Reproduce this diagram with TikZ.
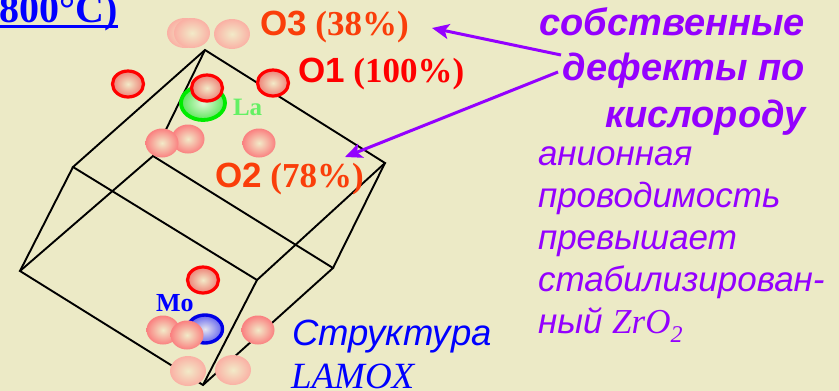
\documentclass[tikz,border=0pt]{standalone}
\usepackage{fontspec}
\setmainfont{Liberation Serif}
\newfontfamily\arialf{Liberation Sans}
\usetikzlibrary{shapes.geometric,arrows.meta}

\definecolor{paper}{RGB}{236,234,198}
\definecolor{labred}{RGB}{255,0,0}
\definecolor{laborange}{RGB}{250,62,10}
\definecolor{violet}{RGB}{148,0,255}
\definecolor{laGreen}{RGB}{100,240,100}
\definecolor{ringGreen}{RGB}{0,235,0}
\definecolor{ringBlue}{RGB}{0,0,230}
\definecolor{coreLight}{RGB}{242,234,200}
\definecolor{rimOne}{RGB}{238,128,118}
\definecolor{rimTwo}{RGB}{250,128,128}
\definecolor{rimThree}{RGB}{250,176,164}
\definecolor{coreGreen}{RGB}{225,248,215}
\definecolor{rimGreen}{RGB}{90,230,90}
\definecolor{coreBlue}{RGB}{230,230,240}
\definecolor{rimBlue}{RGB}{100,100,238}

\tikzset{
  edge/.style={draw=black, line width=1.9, line join=miter},
  atom/.style={ellipse, inner sep=0, minimum width=33, minimum height=29, shading=radial},
  oone/.style={atom, draw=labred, line width=3.2, minimum width=31, minimum height=26, inner color=coreLight, outer color=rimOne},
  otwo/.style={atom, inner color=coreLight, outer color=rimTwo},
  othree/.style={atom, minimum width=36, minimum height=30, inner color=coreLight, outer color=rimThree},
  laatom/.style={atom, draw=ringGreen, line width=3.8, minimum width=44, minimum height=34, inner color=coreGreen, outer color=rimGreen},
  moatom/.style={atom, draw=ringBlue, line width=3.4, minimum width=35, minimum height=28, inner color=coreBlue, outer color=rimBlue},
  txt/.style={inner sep=0, outer sep=0},
  olabel/.style={txt, anchor=base west, font=\bfseries\fontsize{35}{42}\selectfont},
  boldv/.style={txt, anchor=base east, text=violet, font=\arialf\bfseries\itshape\fontsize{38}{46}\selectfont},
  plainv/.style={txt, anchor=base west, text=violet, font=\arialf\itshape\fontsize{35}{42}\selectfont},
  parrow/.style={draw=violet, line width=3, -{Stealth[length=17,width=15,inset=4]}},
}

\begin{document}
\begin{tikzpicture}[x=1pt, y=-1pt]
  \useasboundingbox (0,0) rectangle (839,391);
  \fill[paper] (0,0) rectangle (839,391);

  % tilted unit cell
  \coordinate (T)  at (205,50);
  \coordinate (L)  at (73,167);
  \coordinate (R)  at (385,163);
  \coordinate (I)  at (153,156);
  \coordinate (F)  at (257,280);
  \coordinate (V)  at (333,268);
  \coordinate (LB) at (20,271);
  \coordinate (B)  at (203,385);
  \draw[edge] (T) -- (L) -- (F) -- (R) -- cycle;
  \draw[edge] (I) -- (LB) -- (B) -- (V) -- cycle;
  \draw[edge] (T) -- (I);
  \draw[edge] (L) -- (LB);
  \draw[edge] (F) -- (B);
  \draw[edge] (R) -- (V);

  % heading fragment
  \node[txt, anchor=base east, text=blue, font=\bfseries\fontsize{40}{46}\selectfont] (temp) at (118,22) {800°C)};
  \draw[blue, line width=3.2] ([yshift=-4.6]temp.base west) -- ([yshift=-4.6]temp.base east);

  % atoms
  \node[othree] (p1) at (185,33) {};
  \node[othree] (p2) at (192,33) {};
  \node[othree] (p3) at (232,34) {};
  \node[oone]   (r1) at (128,84) {};
  \node[laatom] (la) at (203,103) {};
  \node[oone]   (r2) at (207,88) {};
  \node[oone]   (r3) at (273,83) {};
  \node[otwo]   (m1) at (188,139) {};
  \node[otwo]   (m2) at (162,143) {};
  \node[otwo]   (m3) at (259,143) {};
  \node[oone]   (r4) at (203,280) {};
  \node[otwo]   (m4) at (163,330) {};
  \node[moatom] (mo) at (205,329) {};
  \node[otwo]   (m5) at (187,335) {};
  \node[otwo]   (m6) at (258,330) {};
  \node[othree] (p4) at (188,371) {};
  \node[othree] (p5) at (233,370) {};

  % atom labels
  \node[txt, anchor=base west, text=laGreen, font=\bfseries\fontsize{25}{28}\selectfont] (latext) at (233,115) {La};
  \node[txt, anchor=base west, text=blue, font=\bfseries\fontsize{26}{28}\selectfont] (motext) at (156,311) {Mo};

  % oxygen site occupancies
  \node[olabel, text=laborange] (o3) at (260,35) {{\arialf O3} (38\%)};
  \node[olabel, text=labred]    (o1) at (298,82) {{\arialf O1} (100\%)};
  \node[olabel, text=laborange] (o2) at (215,187) {{\arialf O2} (78\%)};

  % structure caption
  \node[txt, anchor=base west, text=blue, font=\arialf\itshape\fontsize{36.5}{42}\selectfont] (cap1) at (292,345) {Структура};
  \node[txt, anchor=base west, text=blue, font=\itshape\fontsize{37}{42}\selectfont] (cap2) at (291,388) {LAMOX};

  % right-hand notes
  \node[boldv] (d1) at (805,35)  {собственные};
  \node[boldv] (d2) at (805,80)  {дефекты по};
  \node[boldv] (d3) at (806,127) {кислороду};
  \node[plainv] (n1) at (538,165) {анионная};
  \node[plainv] (n2) at (538,207) {проводимость};
  \node[plainv] (n3) at (538,249) {превышает};
  \node[plainv] (n4) at (538,291) {стабилизирован-};
  \node[plainv] (n5) at (538,333) {ный {\rmfamily\itshape ZrO\raisebox{-9pt}{\fontsize{24}{26}\selectfont 2}}};

  % pointers from the note to the partly occupied sites
  \coordinate (tail1) at (561,55);
  \coordinate (tip1)  at (432,28);
  \coordinate (tail2) at (558,72);
  \coordinate (tip2)  at (345,157);
  \draw[parrow] (tail1) -- (tip1);
  \draw[parrow] (tail2) -- (tip2);
\end{tikzpicture}
\end{document}
